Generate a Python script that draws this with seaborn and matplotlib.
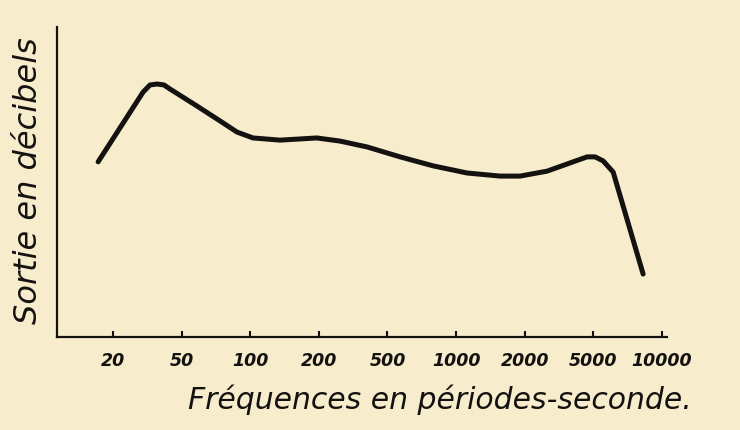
import numpy as np
import matplotlib
matplotlib.use("Agg")
import matplotlib.pyplot as plt
import seaborn as sns
import pandas as pd

# ---- data ----
tick_freqs = [20, 50, 100, 200, 500, 1000, 2000, 5000, 10000]
tick_labels = ["20", "50", "100", "200", "500", "1000", "2000", "5000", "10000"]

freq = [16.4, 29.9, 32.8, 36.0, 39.5, 42.8, 58.4, 73.7, 87.5, 102.9, 135, 196,
        265, 381, 568, 793, 1117, 1559, 1909, 2699, 3819, 4605, 5091, 5521,
        6109, 8270]
level = [56.5, 79.0, 81.3, 81.6, 81.3, 80.0, 74.5, 69.7, 66.1, 64.2, 63.5, 64.2,
         63.2, 61.3, 58.1, 55.2, 52.9, 51.9, 51.9, 53.5, 56.5, 58.1, 58.1, 56.8,
         53.2, 20.3]

xlabel = "Fréquences en périodes-seconde."
ylabel = "Sortie en décibels"

# ---- evenly spaced frequency scale (as drawn on the original) ----
logs = np.log10(tick_freqs)
pos = np.arange(len(tick_freqs), dtype=float)
logs_ext = np.concatenate([[0.0], logs, [5.0]])
pos_ext = np.concatenate([[-(logs[0]) / (logs[1] - logs[0])], pos,
                          [pos[-1] + (5.0 - logs[-1]) / (logs[-1] - logs[-2])]])


def fwd(f):
    f = np.asarray(f, dtype=float)
    return np.interp(np.log10(np.clip(f, 1e-6, None)), logs_ext, pos_ext)


def inv(p):
    p = np.asarray(p, dtype=float)
    return 10 ** np.interp(p, pos_ext, logs_ext)


sns.set_theme(style="ticks")
bg = "#f7edcc"
ink = "#141210"
plt.rcParams["font.family"] = ["DejaVu Sans"]

fig = plt.figure(figsize=(7.4, 4.31), dpi=100, facecolor=bg)
ax = fig.add_axes([0.077, 0.2158, 0.824, 0.7193])
ax.set_facecolor(bg)
ax.set_xscale("function", functions=(fwd, inv))

df = pd.DataFrame({"freq": freq, "level": level})
sns.lineplot(data=df, x="freq", y="level", sort=False, ax=ax, color=ink,
             linewidth=3.6, estimator=None)
for ln in ax.get_lines():
    ln.set_solid_capstyle("round")
    ln.set_solid_joinstyle("round")

ax.set_xlim(float(inv(-0.816)), float(inv(8.07)))
ax.set_ylim(0, 100)

ax.set_xticks(tick_freqs)
ax.set_xticklabels(tick_labels)
ax.xaxis.set_minor_locator(matplotlib.ticker.NullLocator())
ax.set_yticks([])
ax.tick_params(axis="x", direction="in", length=4, width=1.5, color=ink,
               pad=10, labelsize=12.5, labelcolor=ink)
for lab in ax.get_xticklabels():
    lab.set_fontstyle("italic")
    lab.set_fontweight("bold")

for s in ["top", "right"]:
    ax.spines[s].set_visible(False)
for s in ["left", "bottom"]:
    ax.spines[s].set_color(ink)
    ax.spines[s].set_linewidth(1.6)

ax.set_xlabel(xlabel, fontsize=21.5, fontstyle="italic", color=ink)
ax.xaxis.set_label_coords(0.628, -0.15)
ax.set_ylabel(ylabel, fontsize=23, fontstyle="italic", color=ink)
ax.yaxis.set_label_coords(-0.022, 0.506)

fig.savefig("out.png", dpi=100, facecolor=bg)
